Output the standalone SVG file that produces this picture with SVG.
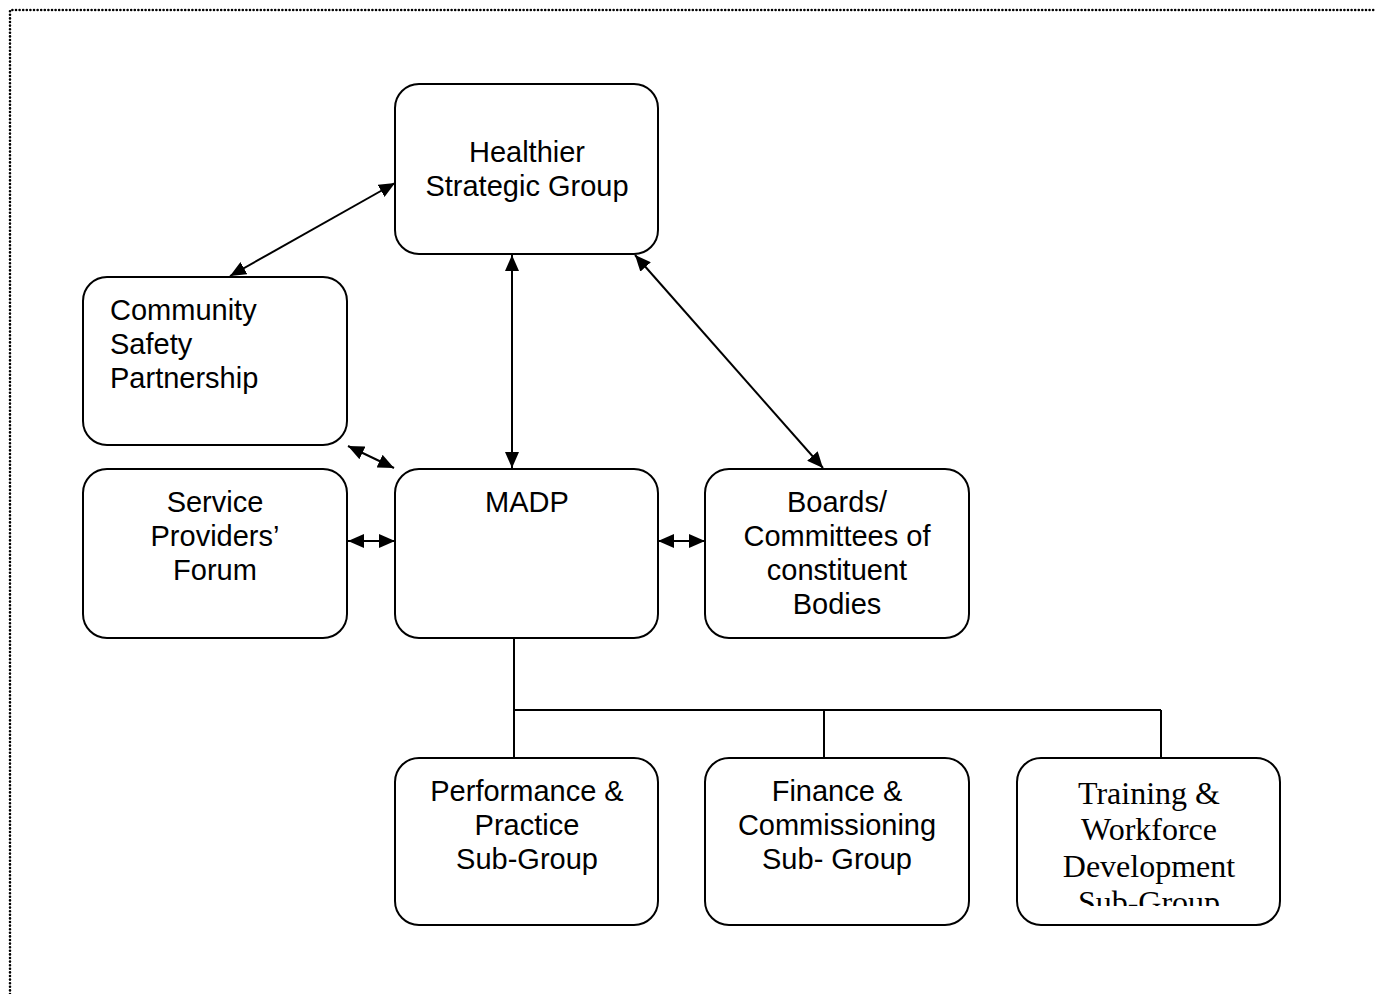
<svg xmlns="http://www.w3.org/2000/svg" width="1381" height="994" viewBox="0 0 1381 994">
  <defs>
    <marker id="arrow" viewBox="0 0 16 14" refX="16" refY="7" markerWidth="16" markerHeight="14" markerUnits="userSpaceOnUse" orient="auto-start-reverse">
      <path d="M0,0 L16,7 L0,14 Z" fill="#000"/>
    </marker>
    <clipPath id="clip-training">
      <rect x="1017" y="758" width="263" height="148"/>
    </clipPath>
  </defs>
  <style>
    .box { fill: #fff; stroke: #000; stroke-width: 2; }
    .lbl { font-family: "Liberation Sans", Arial, sans-serif; font-size: 29px; fill: #000; }
    .serif { font-family: "Liberation Serif", "Times New Roman", serif; font-size: 32px; fill: #000; }
    .link { stroke: #000; stroke-width: 2; fill: none; }
    .both { marker-start: url(#arrow); marker-end: url(#arrow); }
    .frame { stroke: #000; stroke-width: 2.6; stroke-dasharray: 0 3.6; stroke-linecap: round; fill: none; }
  </style>

  <rect width="1381" height="994" fill="#fff"/>

  <!-- dotted page frame -->
  <path class="frame" d="M10,994 L10,10 L1374,10"/>

  <g id="connectors">
    <line class="link both" x1="230" y1="276" x2="395" y2="183"/>
    <line class="link both" x1="512" y1="255" x2="512" y2="468"/>
    <line class="link both" x1="635" y1="255" x2="823" y2="468"/>
    <line class="link both" x1="348" y1="446" x2="394" y2="468"/>
    <line class="link both" x1="348" y1="541" x2="395" y2="541"/>
    <line class="link both" x1="658" y1="541" x2="705" y2="541"/>
    <path class="link" d="M514,638 V710 M514,710 H1161 M514,710 V758 M824,710 V758 M1161,710 V758"/>
  </g>

  <g id="healthier">
    <rect class="box" x="395" y="84" width="263" height="170" rx="24"/>
    <text class="lbl" text-anchor="middle" x="527" y="162">Healthier</text>
    <text class="lbl" text-anchor="middle" x="527" y="196">Strategic Group</text>
  </g>

  <g id="community-safety">
    <rect class="box" x="83" y="277" width="264" height="168" rx="24"/>
    <text class="lbl" x="110" y="320">Community</text>
    <text class="lbl" x="110" y="354">Safety</text>
    <text class="lbl" x="110" y="388">Partnership</text>
  </g>

  <g id="service-providers">
    <rect class="box" x="83" y="469" width="264" height="169" rx="24"/>
    <text class="lbl" text-anchor="middle" x="215" y="512">Service</text>
    <text class="lbl" text-anchor="middle" x="215" y="546">Providers’</text>
    <text class="lbl" text-anchor="middle" x="215" y="580">Forum</text>
  </g>

  <g id="madp">
    <rect class="box" x="395" y="469" width="263" height="169" rx="24"/>
    <text class="lbl" text-anchor="middle" x="527" y="512">MADP</text>
  </g>

  <g id="boards">
    <rect class="box" x="705" y="469" width="264" height="169" rx="24"/>
    <text class="lbl" text-anchor="middle" x="837" y="512">Boards/</text>
    <text class="lbl" text-anchor="middle" x="837" y="546">Committees of</text>
    <text class="lbl" text-anchor="middle" x="837" y="580">constituent</text>
    <text class="lbl" text-anchor="middle" x="837" y="614">Bodies</text>
  </g>

  <g id="performance">
    <rect class="box" x="395" y="758" width="263" height="167" rx="24"/>
    <text class="lbl" text-anchor="middle" x="527" y="801">Performance &amp;</text>
    <text class="lbl" text-anchor="middle" x="527" y="835">Practice</text>
    <text class="lbl" text-anchor="middle" x="527" y="869">Sub-Group</text>
  </g>

  <g id="finance">
    <rect class="box" x="705" y="758" width="264" height="167" rx="24"/>
    <text class="lbl" text-anchor="middle" x="837" y="801">Finance &amp;</text>
    <text class="lbl" text-anchor="middle" x="837" y="835">Commissioning</text>
    <text class="lbl" text-anchor="middle" x="837" y="869">Sub- Group</text>
  </g>

  <g id="training">
    <rect class="box" x="1017" y="758" width="263" height="167" rx="24"/>
    <g clip-path="url(#clip-training)">
      <text class="serif" text-anchor="middle" x="1149" y="804">Training &amp;</text>
      <text class="serif" text-anchor="middle" x="1149" y="840">Workforce</text>
      <text class="serif" text-anchor="middle" x="1149" y="877">Development</text>
      <text class="serif" text-anchor="middle" x="1149" y="913">Sub-Group</text>
    </g>
  </g>
</svg>
